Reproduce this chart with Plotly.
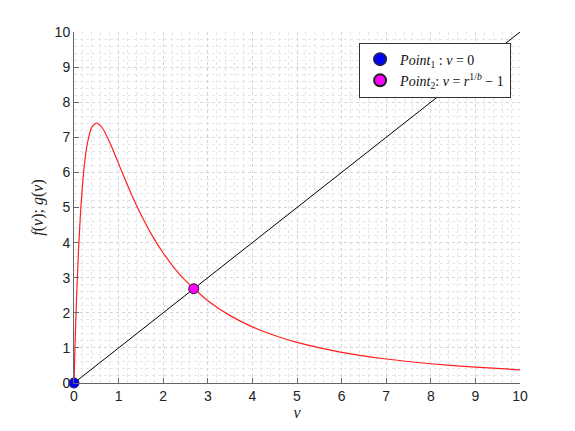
import plotly.graph_objects as go

v_vals = [0, 0.01, 0.02, 0.05, 0.1, 0.15, 0.2, 0.25, 0.3, 0.4, 0.5, 0.6, 0.7, 0.8, 0.9,
          1.0, 1.1, 1.2, 1.35, 1.5, 1.75, 2.0, 2.25, 2.5, 3.0, 3.5, 4.0, 4.5, 5, 6, 7, 8, 9, 10]
f_vals = [0, 0.485, 0.942, 2.160, 3.757, 4.931, 5.787, 6.40, 6.827, 7.289, 7.407, 7.324,
          7.124, 6.859, 6.561, 6.25, 5.938, 5.635, 5.20, 4.80, 4.207, 3.704, 3.276, 2.915,
          2.344, 1.920, 1.60, 1.352, 1.157, 0.875, 0.684, 0.549, 0.45, 0.376]
g_x = [0, 10]
g_y = [0, 10]
p1 = (0, 0)
p2 = (2.684, 2.684)

fig = go.Figure()
fig.add_trace(go.Scatter(x=v_vals, y=f_vals, mode="lines", line=dict(color="#ff2020", width=1.2, shape="spline", smoothing=0.5),
                         showlegend=False, hoverinfo="skip"))
fig.add_trace(go.Scatter(x=g_x, y=g_y, mode="lines", line=dict(color="black", width=1),
                         showlegend=False, hoverinfo="skip"))
fig.add_trace(go.Scatter(x=[p1[0]], y=[p1[1]], mode="markers", cliponaxis=False,
                         marker=dict(color="#0000ff", size=10, line=dict(color="#202060", width=1)),
                         name="<i>Point</i><sub>1</sub> : <i>v</i> = 0"))
fig.add_trace(go.Scatter(x=[p2[0]], y=[p2[1]], mode="markers", cliponaxis=False,
                         marker=dict(color="#ff00ff", size=10, line=dict(color="#202020", width=1)),
                         name="<i>Point</i><sub>2</sub>: <i>v</i> = <i>r</i><sup>1/<i>b</i></sup> − 1"))

axis_common = dict(
    range=[0, 10], dtick=1, showgrid=True, gridcolor="#d4d4d4", griddash="dot", gridwidth=1,
    minor=dict(dtick=0.2, showgrid=True, gridcolor="#e6e6e6", griddash="dot", ticks=""),
    showline=True, linecolor="#666666", linewidth=1, ticks="inside", ticklen=5, tickcolor="#666666",
    tickfont=dict(family="Liberation Sans, Arial", size=14, color="#222222"), zeroline=False,
    mirror=False,
)
fig.update_xaxes(**axis_common, title=dict(text="<i>v</i>", font=dict(family="Liberation Serif, serif", size=16, color="#222"), standoff=3))
fig.update_yaxes(**axis_common, title=dict(text="<i>f</i>(<i>v</i>); <i>g</i>(<i>v</i>)", font=dict(family="Liberation Serif, serif", size=16, color="#222"), standoff=7))

fig.update_layout(
    width=567, height=423,
    margin=dict(l=66, r=55, t=24, b=48),
    paper_bgcolor="white", plot_bgcolor="white",
    legend=dict(x=0.98, y=0.97, xanchor="right", yanchor="top", bgcolor="white",
                bordercolor="#333333", borderwidth=1, font=dict(family="Liberation Serif, serif", size=14, color="#111"),
                tracegroupgap=0, itemsizing="constant"),
)
fig.write_html("out.html")
